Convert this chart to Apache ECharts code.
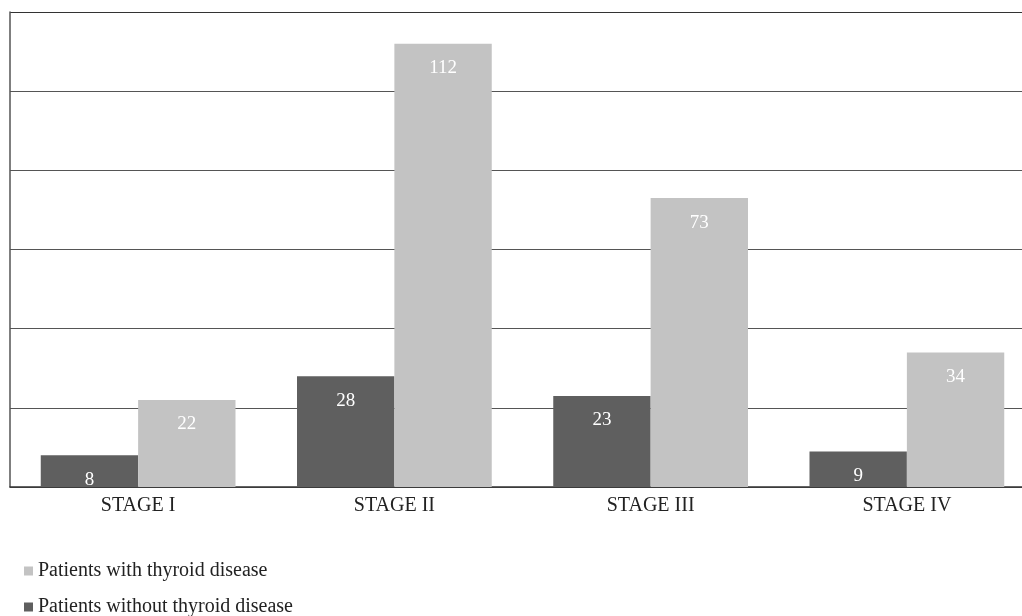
<!DOCTYPE html>
<html><head><meta charset="utf-8">
<script src="https://cdn.jsdelivr.net/npm/echarts@6/dist/echarts.min.js"></script>
<style>html,body{margin:0;padding:0;background:#fff}#c{width:1022px;height:616px}</style>
</head><body><div id="c"></div>
<script>
const categories = ['STAGE I', 'STAGE II', 'STAGE III', 'STAGE IV'];
const withoutThyroid = [8, 28, 23, 9];
const withThyroid = [22, 112, 73, 34];
const nameWith = 'Patients with thyroid disease';
const nameWithout = 'Patients without thyroid disease';
const FONT = '"Liberation Serif", "DejaVu Serif", serif';

const chart = echarts.init(document.getElementById('c'));
const label = {
  show: true, position: 'insideTop', distance: 15,
  color: '#ffffff', fontFamily: FONT, fontSize: 19
};
const legendCommon = {
  orient: 'horizontal', left: 24, padding: 0,
  itemWidth: 9, itemHeight: 9, icon: 'rect',
  textStyle: { fontFamily: FONT, fontSize: 20, color: '#222' }
};
chart.setOption({
  animation: false,
  backgroundColor: '#fff',
  grid: { left: 10, width: 1025, top: 12, bottom: 129, show: false, outerBoundsMode: 'none', containLabel: false },
  legend: [
    Object.assign({ data: [nameWith], top: 561 }, legendCommon),
    Object.assign({ data: [nameWithout], top: 597 }, legendCommon)
  ],
  xAxis: {
    type: 'category', data: categories,
    axisLine: { lineStyle: { color: '#333', width: 1.5 } },
    axisTick: { show: false },
    axisLabel: { fontFamily: FONT, fontSize: 20, color: '#222', margin: 9 }
  },
  yAxis: {
    type: 'value', min: 0, max: 120, interval: 20,
    axisLabel: { show: false },
    axisLine: { show: true, lineStyle: { color: '#555', width: 1.5 } },
    axisTick: { show: false },
    splitLine: { lineStyle: { color: ['#555', '#555', '#555', '#555', '#555', '#555', '#333'], width: 1.2 } }
  },
  series: [
    { name: nameWithout, type: 'bar', data: withoutThyroid, barGap: '0%', barCategoryGap: '24%',
      itemStyle: { color: '#5f5f5f' }, label: label },
    { name: nameWith, type: 'bar', data: withThyroid,
      itemStyle: { color: '#c3c3c3' }, label: label }
  ]
});
</script></body></html>
